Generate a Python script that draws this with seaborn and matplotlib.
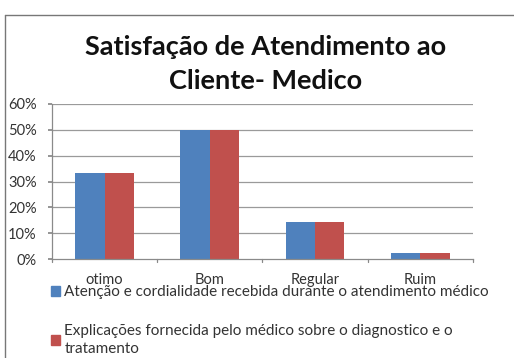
import matplotlib
matplotlib.use("Agg")
import matplotlib.pyplot as plt
import matplotlib.patches as mpatches
from matplotlib.lines import Line2D
import seaborn as sns
import pandas as pd

categories = ["otimo", "Bom", "Regular", "Ruim"]
series_names = [
    "Atenção e cordialidade recebida durante o atendimento médico",
    "Explicações fornecida pelo médico sobre o diagnostico e o\ntratamento",
]
atencao = [0.333, 0.50, 0.143, 0.023]
explicacoes = [0.333, 0.50, 0.143, 0.023]
y_ticks = [0.0, 0.1, 0.2, 0.3, 0.4, 0.5, 0.6]
y_tick_labels = ["0%", "10%", "20%", "30%", "40%", "50%", "60%"]
colors = ["#4F81BD", "#C0504D"]

df = pd.DataFrame({
    "categoria": categories * 2,
    "valor": atencao + explicacoes,
    "serie": [series_names[0]] * 4 + [series_names[1]] * 4,
})

sns.set_theme(style="white")
plt.rcParams["font.family"] = ["Lato", "DejaVu Sans"]

fig = plt.figure(figsize=(5.14, 3.58), dpi=100)
ax = fig.add_axes([0.101, 0.2765, 0.819, 0.433])

sns.barplot(data=df, x="categoria", y="valor", hue="serie", palette=colors,
            width=0.56, saturation=1, ax=ax, legend=False, linewidth=0)

ax.set_ylim(0, 0.6)
ax.set_xlim(-0.5, 3.5)
ax.set_yticks(y_ticks)
ax.set_yticklabels(y_tick_labels, fontsize=10.5, color="#333333")
ax.set_xlabel("")
ax.set_ylabel("")
ax.tick_params(axis="x", labelsize=10.5, colors="#333333", length=0, pad=10)
ax.tick_params(axis="y", length=3, color="#888888", pad=8, left=True, direction="out")

# Category separators below the x axis
for b in [-0.5, 0.5, 1.5, 2.5, 3.5]:
    ax.plot([b, b], [0, -0.012], color="#888888", lw=0.9, clip_on=False)

for v in y_ticks[1:]:
    ax.axhline(v, color="#9a9a9a", lw=0.9, zorder=0)
ax.set_axisbelow(True)

for side in ["top", "right"]:
    ax.spines[side].set_visible(False)
for side in ["left", "bottom"]:
    ax.spines[side].set_color("#8a8a8a")
    ax.spines[side].set_linewidth(0.9)

fig.text(0.516, 0.868, "Satisfação de Atendimento ao", ha="center", va="center",
         fontsize=19.5, fontweight="bold", color="#111111")
fig.text(0.516, 0.775, "Cliente- Medico", ha="center", va="center",
         fontsize=19.5, fontweight="bold", color="#111111")

# Outer chart frame (top and left edges)
fig.add_artist(Line2D([5 / 514, 5 / 514], [0, 1 - 15 / 358], transform=fig.transFigure,
                      color="#777777", lw=1))
fig.add_artist(Line2D([5 / 514, 1], [1 - 15 / 358, 1 - 15 / 358], transform=fig.transFigure,
                      color="#777777", lw=1))

handles = [mpatches.Patch(color=c) for c in colors]
leg = fig.legend(handles, series_names, loc="upper left", bbox_to_anchor=(0.088, 0.22),
                 frameon=False, fontsize=11, handlelength=0.55, handleheight=0.55,
                 handletextpad=0.3, labelspacing=1.6, borderaxespad=0)
for t in leg.get_texts():
    t.set_color("#333333")
    t.set_linespacing(1.4)

fig.savefig("out.png", dpi=100)
